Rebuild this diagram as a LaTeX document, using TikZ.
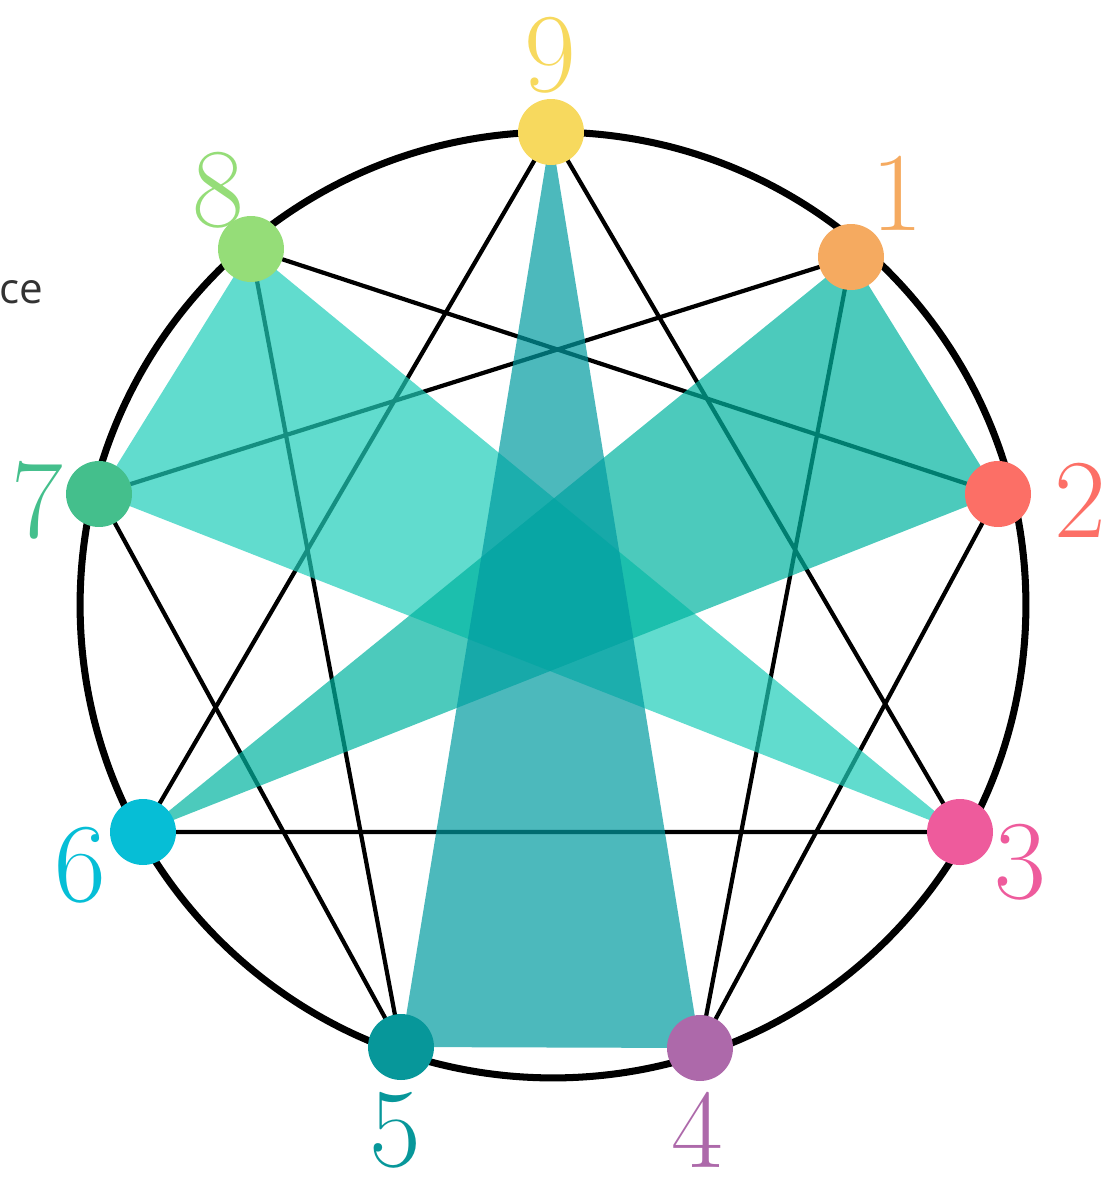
\documentclass[tikz,border=0pt]{standalone}
\usepackage{fontspec}
\newfontfamily\notefont{Open Sans}
\usetikzlibrary{positioning}
\definecolor{ninecol}{HTML}{F7D95E}
\definecolor{onecol}{HTML}{F5AA60}
\definecolor{twocol}{HTML}{FC6F66}
\definecolor{threecol}{HTML}{EE5B9C}
\definecolor{fourcol}{HTML}{AD69AA}
\definecolor{fivecol}{HTML}{07979A}
\definecolor{sixcol}{HTML}{06BED6}
\definecolor{sevencol}{HTML}{44BF8C}
\definecolor{eightcol}{HTML}{95DD78}
\definecolor{headtri}{RGB}{0,155,160}
\definecolor{hearttri}{RGB}{30,205,185}
\definecolor{guttri}{RGB}{0,180,160}
\definecolor{notegray}{HTML}{333333}

\begin{document}
\begin{tikzpicture}[x=0.02cm, y=-0.02cm,
    dot/.style={circle, inner sep=0pt, minimum size=1.32cm},
    num/.style={inner sep=0pt, font=\fontsize{64}{64}\selectfont},
    link/.style={line width=2.4pt, black},
    tri/.style={fill opacity=0.7}
]
\useasboundingbox (0,0) rectangle (1107,1179);

% outer ring
\draw[line width=4pt] (553,605) circle[radius=9.46cm];

% points on the ring
\coordinate (c9) at (551,132);
\coordinate (c1) at (851,257);
\coordinate (c2) at (998,494);
\coordinate (c3) at (960,832);
\coordinate (c4) at (700,1048);
\coordinate (c5) at (401,1047);
\coordinate (c6) at (143,832);
\coordinate (c7) at (99,494);
\coordinate (c8) at (251,249);

% inner triangle and hexad
\draw[link] (c9) -- (c3) -- (c6) -- cycle;
\draw[link] (c1) -- (c4) -- (c2) -- (c8) -- (c5) -- (c7) -- cycle;

% shaded triangles
\fill[tri, fill=hearttri] (c8) -- (c7) -- (c3) -- cycle;
\fill[tri, fill=guttri] (c1) -- (c2) -- (c6) -- cycle;
\fill[tri, fill=headtri] (c9) -- (c5) -- (c4) -- cycle;

% dots
\node[dot, fill=ninecol] (p9) at (c9) {};
\node[dot, fill=onecol] (p1) at (c1) {};
\node[dot, fill=twocol] (p2) at (c2) {};
\node[dot, fill=threecol] (p3) at (c3) {};
\node[dot, fill=fourcol] (p4) at (c4) {};
\node[dot, fill=fivecol] (p5) at (c5) {};
\node[dot, fill=sixcol] (p6) at (c6) {};
\node[dot, fill=sevencol] (p7) at (c7) {};
\node[dot, fill=eightcol] (p8) at (c8) {};

% numbers
\node[num, text=ninecol] (l9) at (550,55) {9};
\node[num, text=onecol] (l1) at (897,193) {1};
\node[num, text=twocol] (l2) at (1080,500) {2};
\node[num, text=threecol] (l3) at (1020,862) {3};
\node[num, text=fourcol] (l4) at (697,1130) {4};
\node[num, text=fivecol] (l5) at (395,1130) {5};
\node[num, text=sixcol] (l6) at (80,865) {6};
\node[num, text=sevencol] (l7) at (37,500) {7};
\node[num, text=eightcol] (l8) at (218,190) {8};

\node[anchor=east, inner sep=0pt, text=notegray, font=\notefont\fontsize{24}{24}\selectfont] (note) at (44,292) {ce};
\end{tikzpicture}
\end{document}
